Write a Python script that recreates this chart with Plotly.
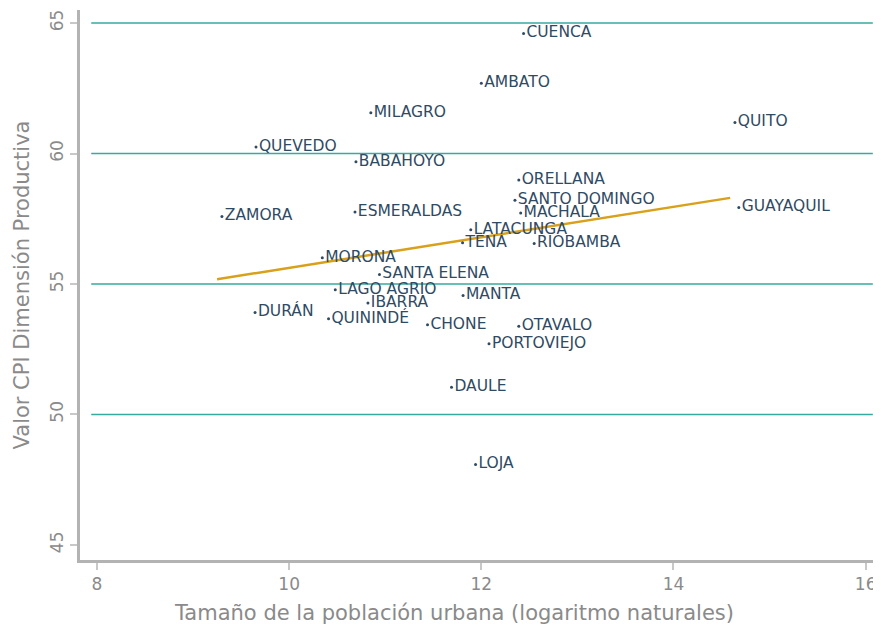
import plotly.graph_objects as go

# ciudades, log población urbana, valor CPI dimensión productiva
ciudades = ["CUENCA", "AMBATO", "MILAGRO", "QUITO", "QUEVEDO", "BABAHOYO",
            "ORELLANA", "SANTO DOMINGO", "GUAYAQUIL", "MACHALA", "ZAMORA",
            "ESMERALDAS", "LATACUNGA", "TENA", "RIOBAMBA", "MORONA",
            "SANTA ELENA", "LAGO AGRIO", "MANTA", "IBARRA", "DURÁN",
            "QUININDÉ", "CHONE", "OTAVALO", "PORTOVIEJO", "DAULE", "LOJA"]
log_pob = [12.44, 12.00, 10.85, 14.64, 9.655, 10.695,
           12.39, 12.35, 14.68, 12.41, 9.30,
           10.685, 11.89, 11.805, 12.55, 10.345,
           10.94, 10.48, 11.81, 10.82, 9.645,
           10.41, 11.44, 12.39, 12.08, 11.69, 11.94]
cpi = [64.60, 62.69, 61.56, 61.19, 60.25, 59.68,
       58.98, 58.21, 57.93, 57.72, 57.59,
       57.76, 57.08, 56.58, 56.55, 56.00,
       55.36, 54.78, 54.56, 54.27, 53.91,
       53.67, 53.44, 53.38, 52.71, 51.04, 48.08]

# línea de tendencia (extremos)
tend_x = [9.25, 14.59]
tend_y = [55.18, 58.30]

x_ticks = [8, 10, 12, 14, 16]
y_ticks = [45, 50, 55, 60, 65]
grid_y = [50, 55, 60, 65]

fuente = "DejaVu Sans"
gris = "#b3b3b3"
gris_txt = "#8a8a8a"

fig = go.Figure()

for gy in grid_y:
    fig.add_shape(type="line", x0=7.94, x1=16.075, y0=gy, y1=gy,
                  line=dict(color="#36aa9e", width=1.5), layer="below")

fig.add_trace(go.Scatter(
    x=tend_x, y=tend_y, mode="lines",
    line=dict(color="#d9a01a", width=2.5),
    hoverinfo="skip", showlegend=False))

fig.add_trace(go.Scatter(
    x=log_pob, y=cpi, mode="markers+text",
    text=ciudades, textposition="middle right",
    textfont=dict(family=fuente, size=15.5, color="#2f4a63"),
    marker=dict(color="#2f4a63", size=3),
    showlegend=False))

fig.update_xaxes(
    range=[7.823, 16.16], tickvals=x_ticks, showgrid=False, zeroline=False,
    showline=True, linecolor=gris, linewidth=3, automargin=False,
    ticks="outside", ticklen=7, tickwidth=2, tickcolor="#c8c8c8",
    tickfont=dict(family=fuente, size=17, color=gris_txt))
fig.update_yaxes(
    range=[44.42, 65.5], tickvals=y_ticks, showgrid=False, zeroline=False,
    showline=True, linecolor=gris, linewidth=3, automargin=False,
    ticks="outside", ticklen=7, tickwidth=2, tickcolor="#c8c8c8",
    tickangle=-90,
    tickfont=dict(family=fuente, size=17, color=gris_txt),
    title=dict(text="Valor CPI Dimensión Productiva",
               font=dict(family=fuente, size=21, color=gris_txt), standoff=12))

fig.add_annotation(
    text="Tamaño de la población urbana (logaritmo naturales)",
    xref="paper", yref="paper", x=0.467, y=-0.097,
    xanchor="center", yanchor="middle", showarrow=False,
    font=dict(family=fuente, size=21, color=gris_txt))

# la página añade 8 px de margen, se compensa aquí
fig.update_layout(
    width=873, height=616,
    margin=dict(l=72, r=0, t=2, b=64),
    plot_bgcolor="white", paper_bgcolor="white",
    showlegend=False)

fig.write_html("out.html")
